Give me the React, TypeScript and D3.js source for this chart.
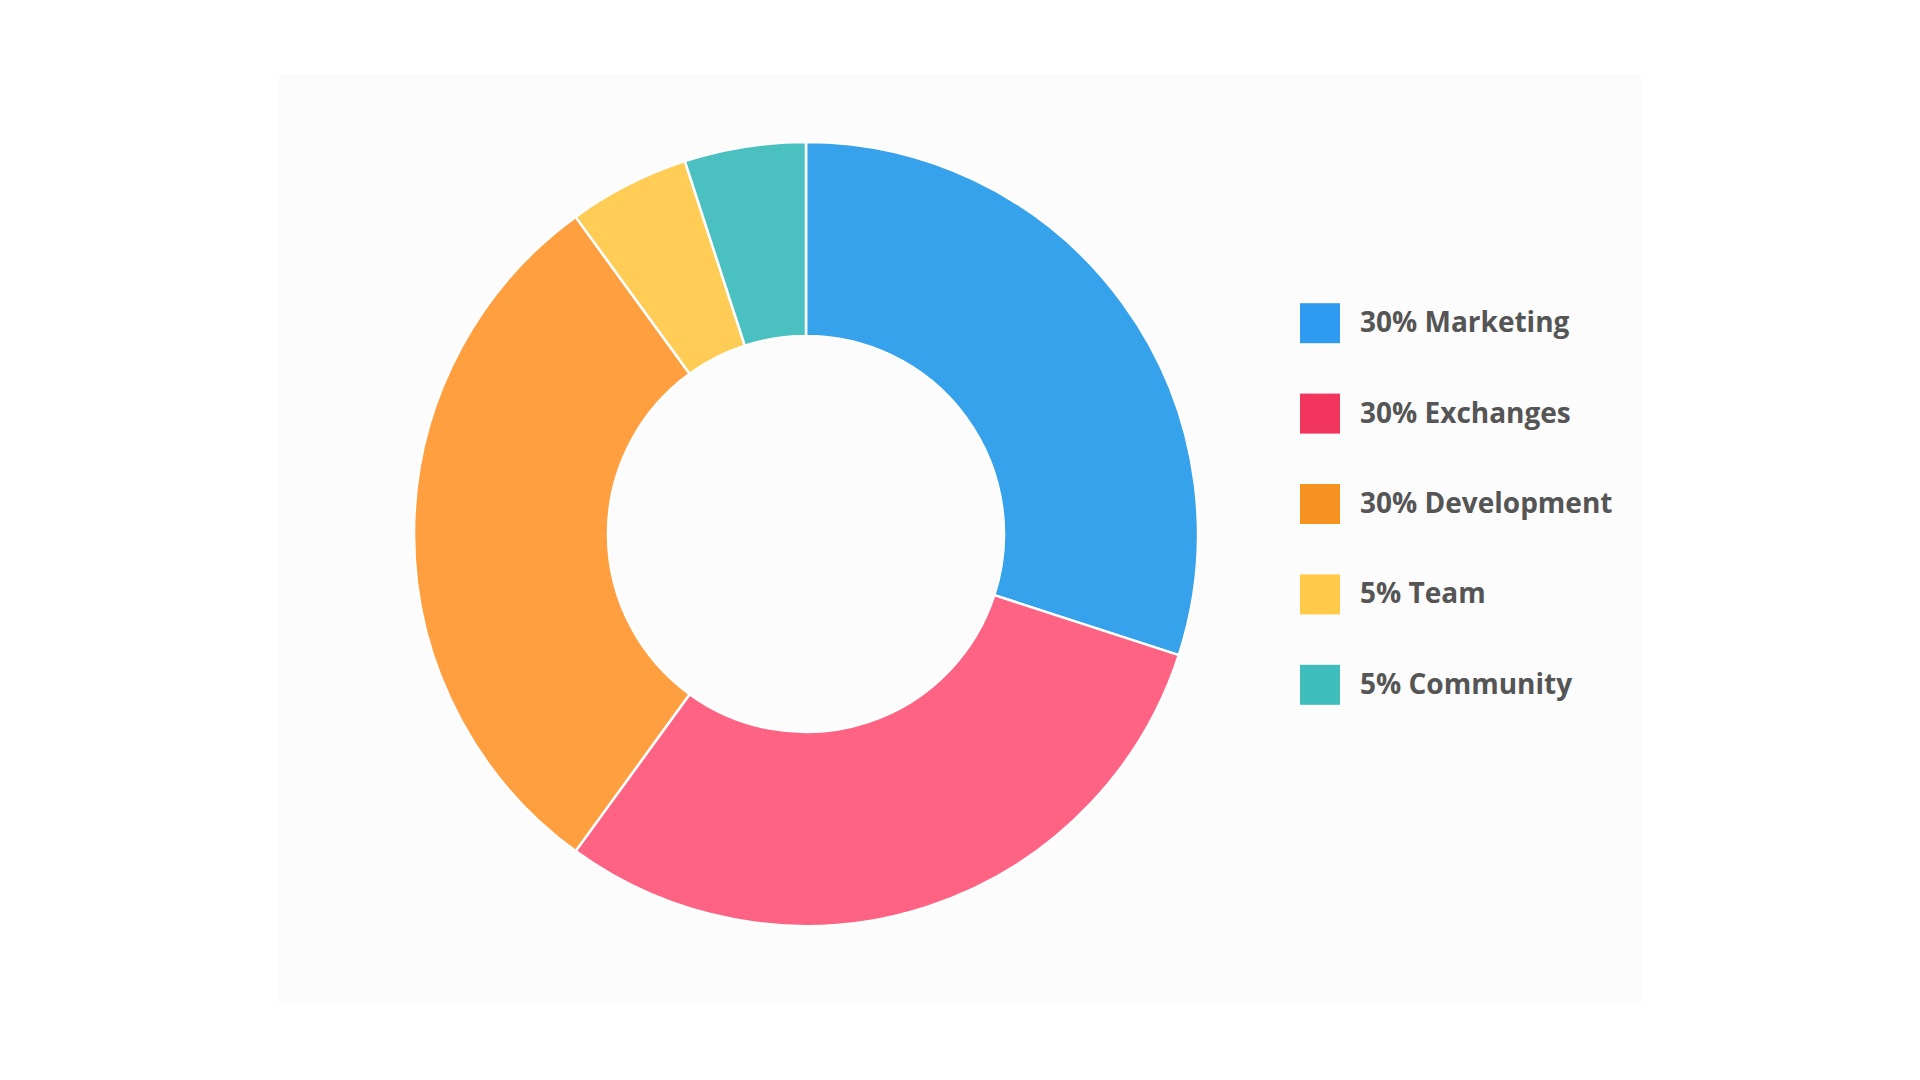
import React, { useRef, useEffect } from 'react';
import * as d3 from 'd3';

const categories = ['Marketing', 'Exchanges', 'Development', 'Team', 'Community'];
const shares = [30, 30, 30, 5, 5];
const sliceColors = ['#36A2EB', '#FF6384', '#FF9F40', '#FFCD56', '#4BC0C0'];
const legendColors = ['#2E9BF0', '#F2355F', '#F7911F', '#FFC94A', '#3FBDBD'];

const App = () => {
    const chartRef = useRef<SVGSVGElement>(null);

    useEffect(() => {
        const width = 1920;
        const height = 1080;
        const cx = 806;
        const cy = 534;
        const outerR = 392;
        const innerR = 198;

        const svg = d3.select(chartRef.current);
        svg.selectAll('*').remove();

        svg.append('rect')
            .attr('width', width)
            .attr('height', height)
            .attr('fill', '#ffffff');

        svg.append('rect')
            .attr('x', 279)
            .attr('y', 74)
            .attr('width', 1362)
            .attr('height', 931)
            .attr('fill', '#fcfcfc');

        const data = categories.map((c, i) => ({ name: c, value: shares[i], i }));

        const pie = d3.pie<any>().value(d => d.value).sort(null);
        const arc = d3.arc<any>().innerRadius(innerR).outerRadius(outerR);

        svg.append('g')
            .attr('transform', `translate(${cx},${cy})`)
            .selectAll('path')
            .data(pie(data))
            .join('path')
            .attr('d', arc)
            .attr('fill', d => sliceColors[d.data.i])
            .attr('stroke', '#ffffff')
            .attr('stroke-width', 2.5)
            .attr('stroke-linejoin', 'round');

        const y = d3.scaleBand()
            .domain(categories)
            .range([278, 730]);

        const legend = svg.append('g')
            .selectAll('g')
            .data(data)
            .join('g')
            .attr('transform', d => `translate(1300,${y(d.name)! + y.bandwidth() / 2})`);

        legend.append('rect')
            .attr('y', -20)
            .attr('width', 40)
            .attr('height', 40)
            .attr('fill', d => legendColors[d.i]);

        legend.append('text')
            .attr('x', 60)
            .attr('y', 9)
            .attr('font-family', '"Open Sans", sans-serif')
            .attr('font-weight', 700)
            .attr('font-size', 28)
            .attr('fill', '#555555')
            .text(d => `${d.value}% ${d.name}`);
    }, []);

    return (
        <svg
            ref={chartRef}
            width={1920}
            height={1080}
            style={{ position: 'absolute', left: 0, top: 0, display: 'block' }}
        ></svg>
    );
};

export default App;
